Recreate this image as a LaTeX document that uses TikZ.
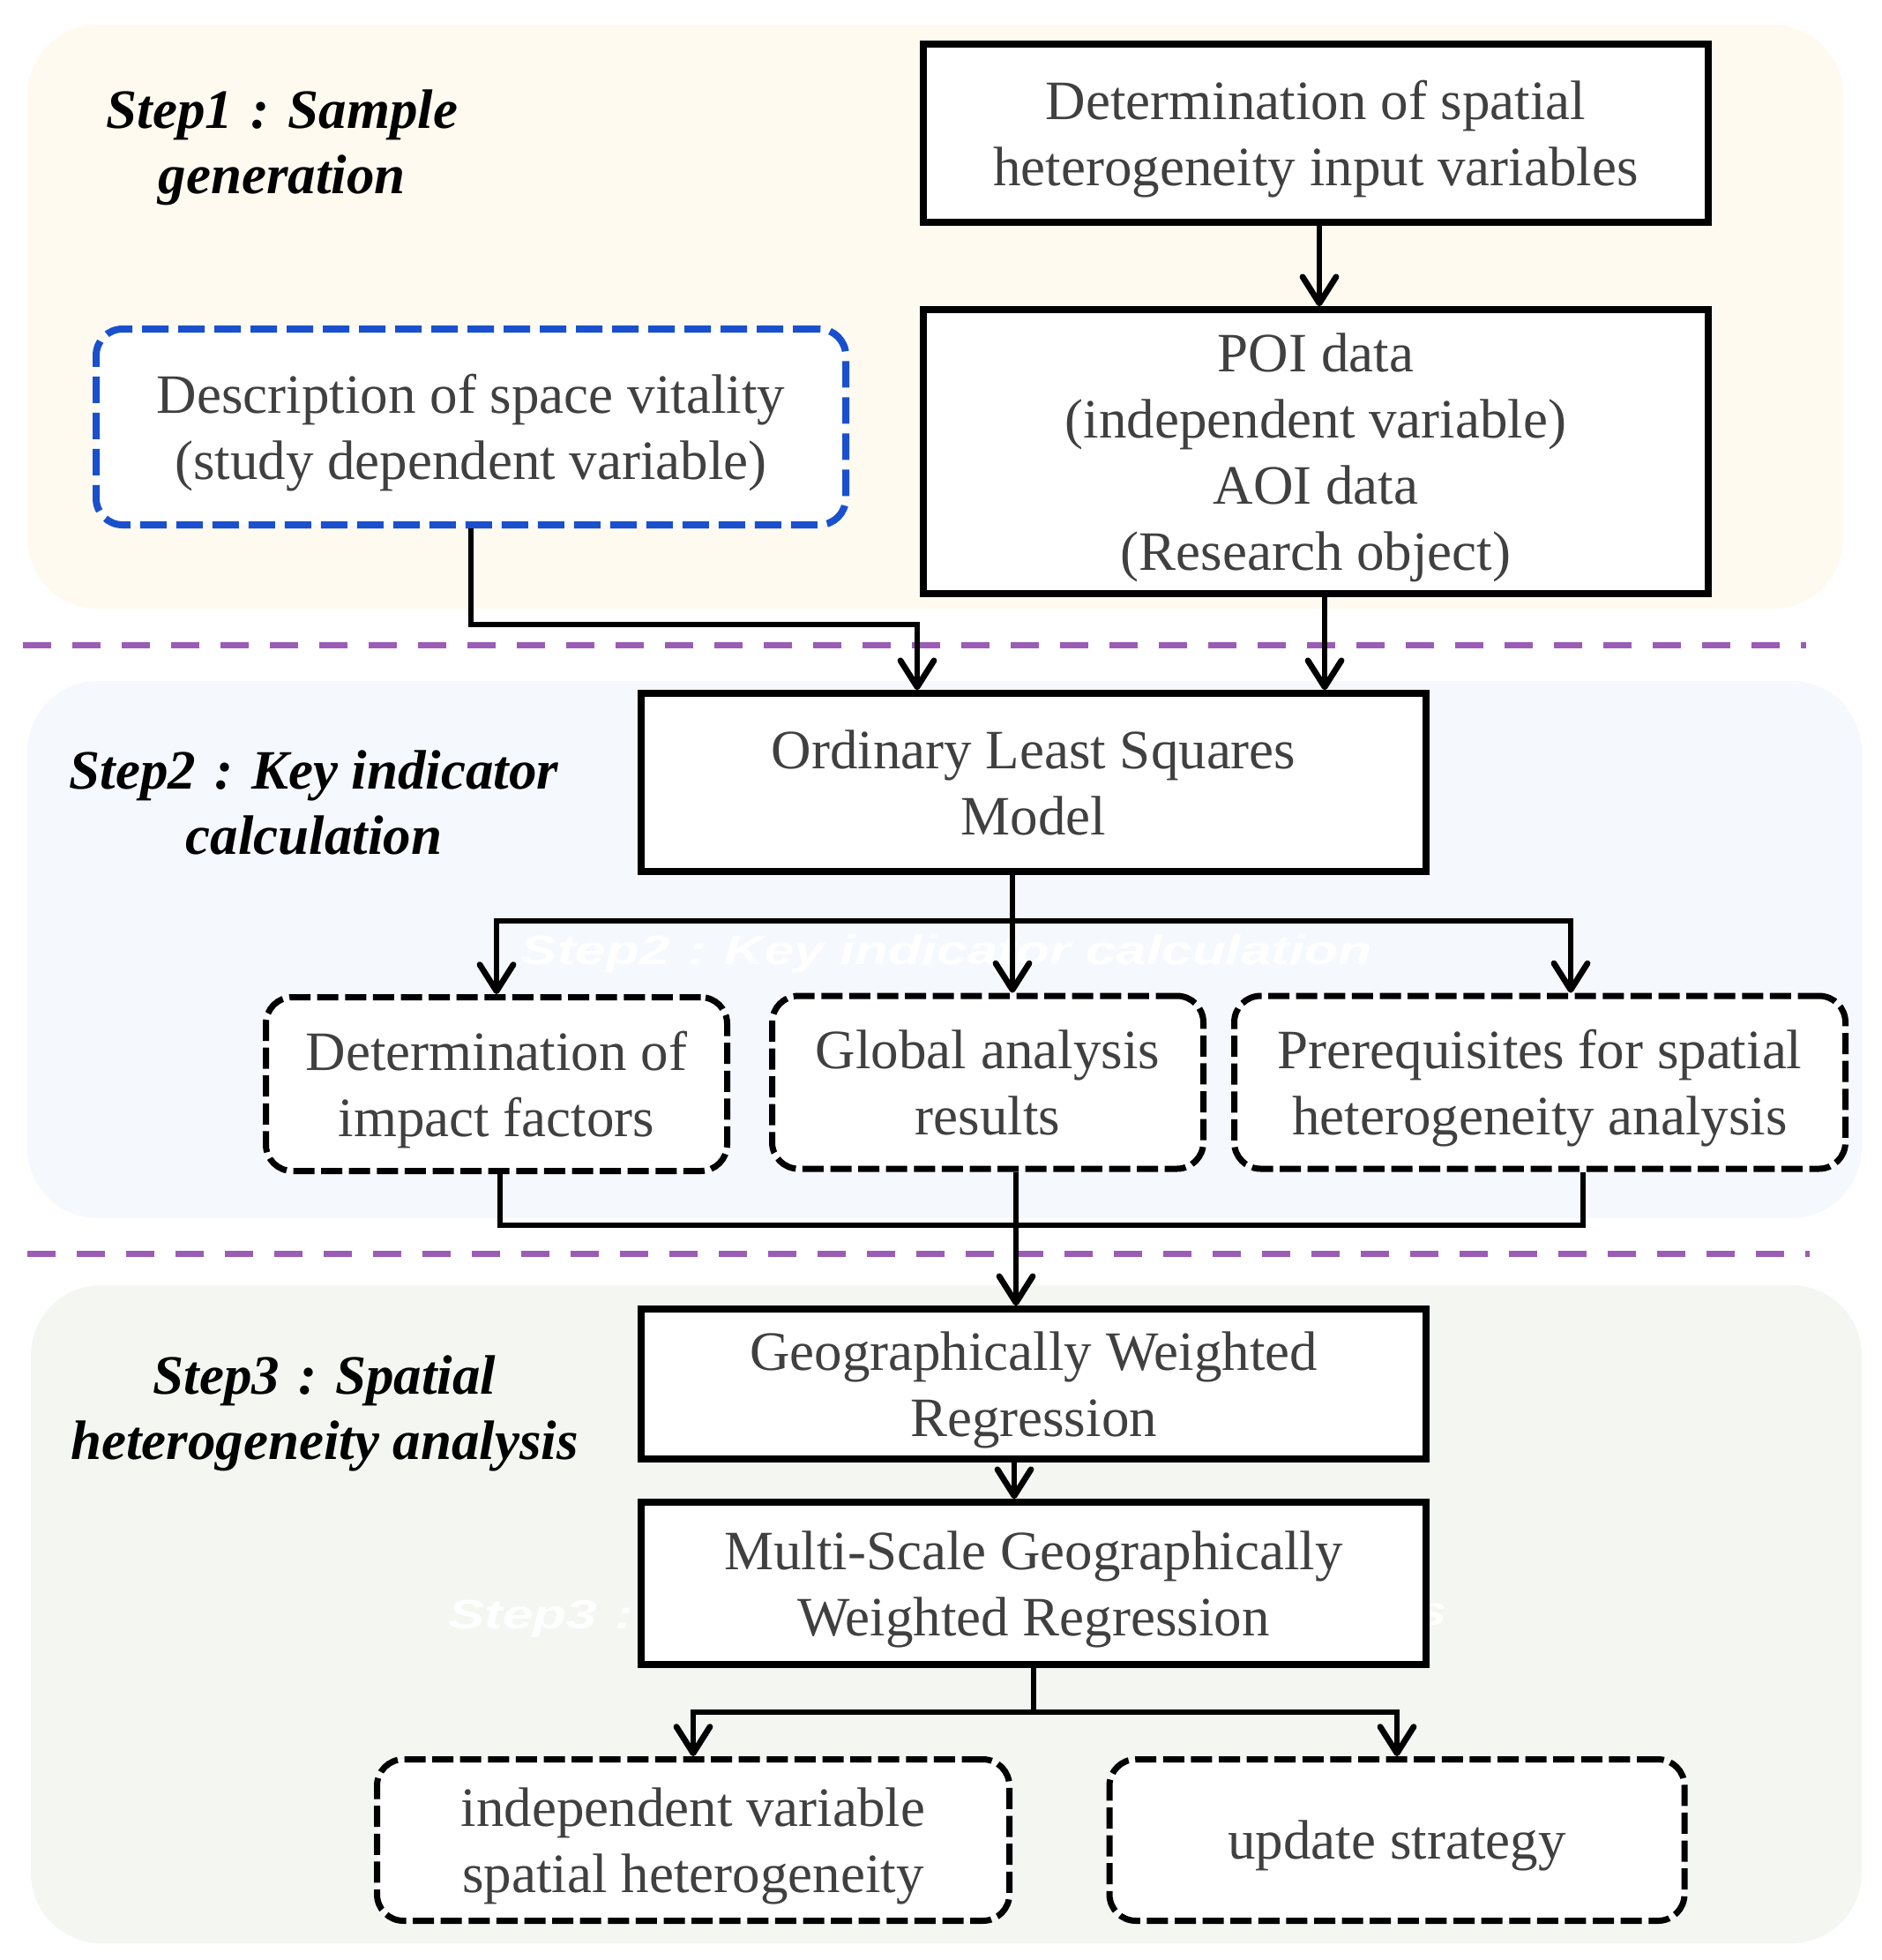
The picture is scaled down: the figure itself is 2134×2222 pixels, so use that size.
\documentclass[tikz,border=0pt]{standalone}
\usepackage{fontspec}
\setmainfont{Liberation Serif}
\newfontfamily\wmfont{Liberation Sans}
\usetikzlibrary{arrows.meta,calc}

\definecolor{bgone}{RGB}{254,250,240}
\definecolor{bgtwo}{RGB}{245,248,253}
\definecolor{bgthree}{RGB}{244,246,241}
\definecolor{sepcol}{RGB}{155,92,182}
\definecolor{boxtext}{RGB}{64,64,64}
\definecolor{blueline}{RGB}{26,80,205}

\newcommand\bxfont{\fontsize{31.5}{37.5}\selectfont}
\newcommand\stepcolon{\makebox[1em]{:}}

\begin{document}
\begin{tikzpicture}[x=0.5pt,y=-0.5pt,
  solidbox/.style={draw=black, line width=3.75pt, fill=white, text=boxtext,
    align=center, inner sep=0pt, font=\bxfont, text depth=0pt},
  dashbox/.style={draw=black, line width=3.5pt, fill=white, text=boxtext,
    align=center, inner sep=0pt, font=\bxfont, rounded corners=15pt,
    dash pattern=on 12pt off 3.8pt, text depth=0pt},
  bluebox/.style={dashbox, draw=blueline, line width=4pt, dash pattern=on 15pt off 5.5pt},
  steplabel/.style={align=center, inner sep=0pt, text=black, text depth=0pt,
    font=\fontsize{31.5}{37}\selectfont\bfseries\itshape},
  wmark/.style={inner sep=0pt, text=white, text depth=0pt,
    font=\fontsize{31}{37}\selectfont\wmfont\bfseries\itshape},
  bgpanel/.style={rounded corners=40pt},
  sepline/.style={draw=sepcol, line width=3.5pt, dash pattern=on 16pt off 12pt},
  conn/.style={draw=black, line width=2.6pt},
  arr/.style={conn, -{Straight Barb[length=15pt, width=19pt, line width=3.4pt, round]}}
]
\useasboundingbox (0,0) rectangle (2134,2222);
\fill[white] (0,0) rectangle (2134,2222);

% panels
\fill[bgone, bgpanel] (31,28) rectangle (2090,690);
\fill[bgtwo, bgpanel] (31,772) rectangle (2111,1381);
\fill[bgthree, bgpanel] (35,1457) rectangle (2111,2203);

% separators
\draw[sepline] (26,731) -- (2048,731);
\draw[sepline] (31,1421) -- (2052,1421);

% faint watermark texts (partly hidden behind the boxes)
\node[wmark] (wm2) at (1073,1077) {\scalebox{1}[0.75]{Step2\makebox[1em]{:}Key indicator calculation}};
\node[wmark, anchor=west] (wm3a) at (508,1830) {\scalebox{1}[0.75]{Step3\makebox[1em]{:}}};
\node[wmark, anchor=west] (wm3b) at (1606,1830) {\scalebox{1}[0.75]{s}};

% step labels
\node[steplabel] (s1) at (320,161) {Step1\stepcolon Sample\\generation};
\node[steplabel] (s2) at (356,910) {Step2\stepcolon Key indicator\\calculation};
\node[steplabel] (s3) at (368,1596) {Step3\stepcolon Spatial\\heterogeneity analysis};

% boxes
\node[solidbox, minimum width=445pt, minimum height=101pt] (A) at (1492,151)
  {Determination of spatial\\heterogeneity input variables};
\node[solidbox, minimum width=445pt, minimum height=161pt] (B) at (1492,512)
  {POI data\\(independent variable)\\AOI data\\(Research object)};
\node[bluebox, minimum width=425pt, minimum height=111pt] (C) at (534,484)
  {Description of space vitality\\(study dependent variable)};
\node[solidbox, minimum width=445pt, minimum height=101pt] (D) at (1172,887)
  {Ordinary Least Squares\\Model};
\node[dashbox, minimum width=261.5pt, minimum height=98.5pt] (E1) at (563,1229)
  {Determination of\\impact factors};
\node[dashbox, minimum width=244.5pt, minimum height=98pt] (E2) at (1120,1227)
  {Global analysis\\results};
\node[dashbox, minimum width=346.5pt, minimum height=98pt] (E3) at (1746,1227)
  {Prerequisites for spatial\\heterogeneity analysis};
\node[solidbox, minimum width=445pt, minimum height=85pt] (F) at (1172,1569)
  {Geographically Weighted\\Regression};
\node[solidbox, minimum width=445pt, minimum height=92pt] (G) at (1172,1795)
  {Multi-Scale Geographically\\Weighted Regression};
\node[dashbox, minimum width=358.5pt, minimum height=91.5pt] (H1) at (786,2086)
  {independent variable\\spatial heterogeneity};
\node[dashbox, minimum width=326pt, minimum height=91.5pt] (H2) at (1584,2086)
  {update strategy};

% connectors
\draw[arr] ([xshift=2pt]A.south) -- ([xshift=2pt]B.north);
\draw[arr] ([xshift=5pt]B.south) -- ([xshift=5pt]B.south |- D.north);
\coordinate (cdturn) at (1040,708);
\draw[arr] (C.south) |- (cdturn) -- (cdturn |- D.north);

\coordinate (bustop) at (1148,1044);
\draw[arr] (bustop |- D.south) -- (bustop |- E2.north);
\draw[arr] (bustop) -| (E1.north);
\coordinate (e3t) at ([xshift=17.5pt]E3.north);
\draw[arr] (bustop) -| (e3t);

\coordinate (busbot) at (1152,1389);
\coordinate (e1b) at ([xshift=2pt]E1.south);
\coordinate (e3b) at ([xshift=24.5pt]E3.south);
\draw[conn] (e1b) |- (e3b |- busbot) -- (e3b);
\draw[arr] (E2.south -| busbot) -- (busbot |- F.north);

\draw[arr] ([xshift=-11pt]F.south) -- ([xshift=-11pt]G.north);

\coordinate (hbus) at (1173,1941);
\draw[conn] (G.south) -- (G.south |- hbus);
\draw[arr] (G.south |- hbus) -| (H1.north);
\draw[arr] (G.south |- hbus) -| (H2.north);
\end{tikzpicture}
\end{document}
